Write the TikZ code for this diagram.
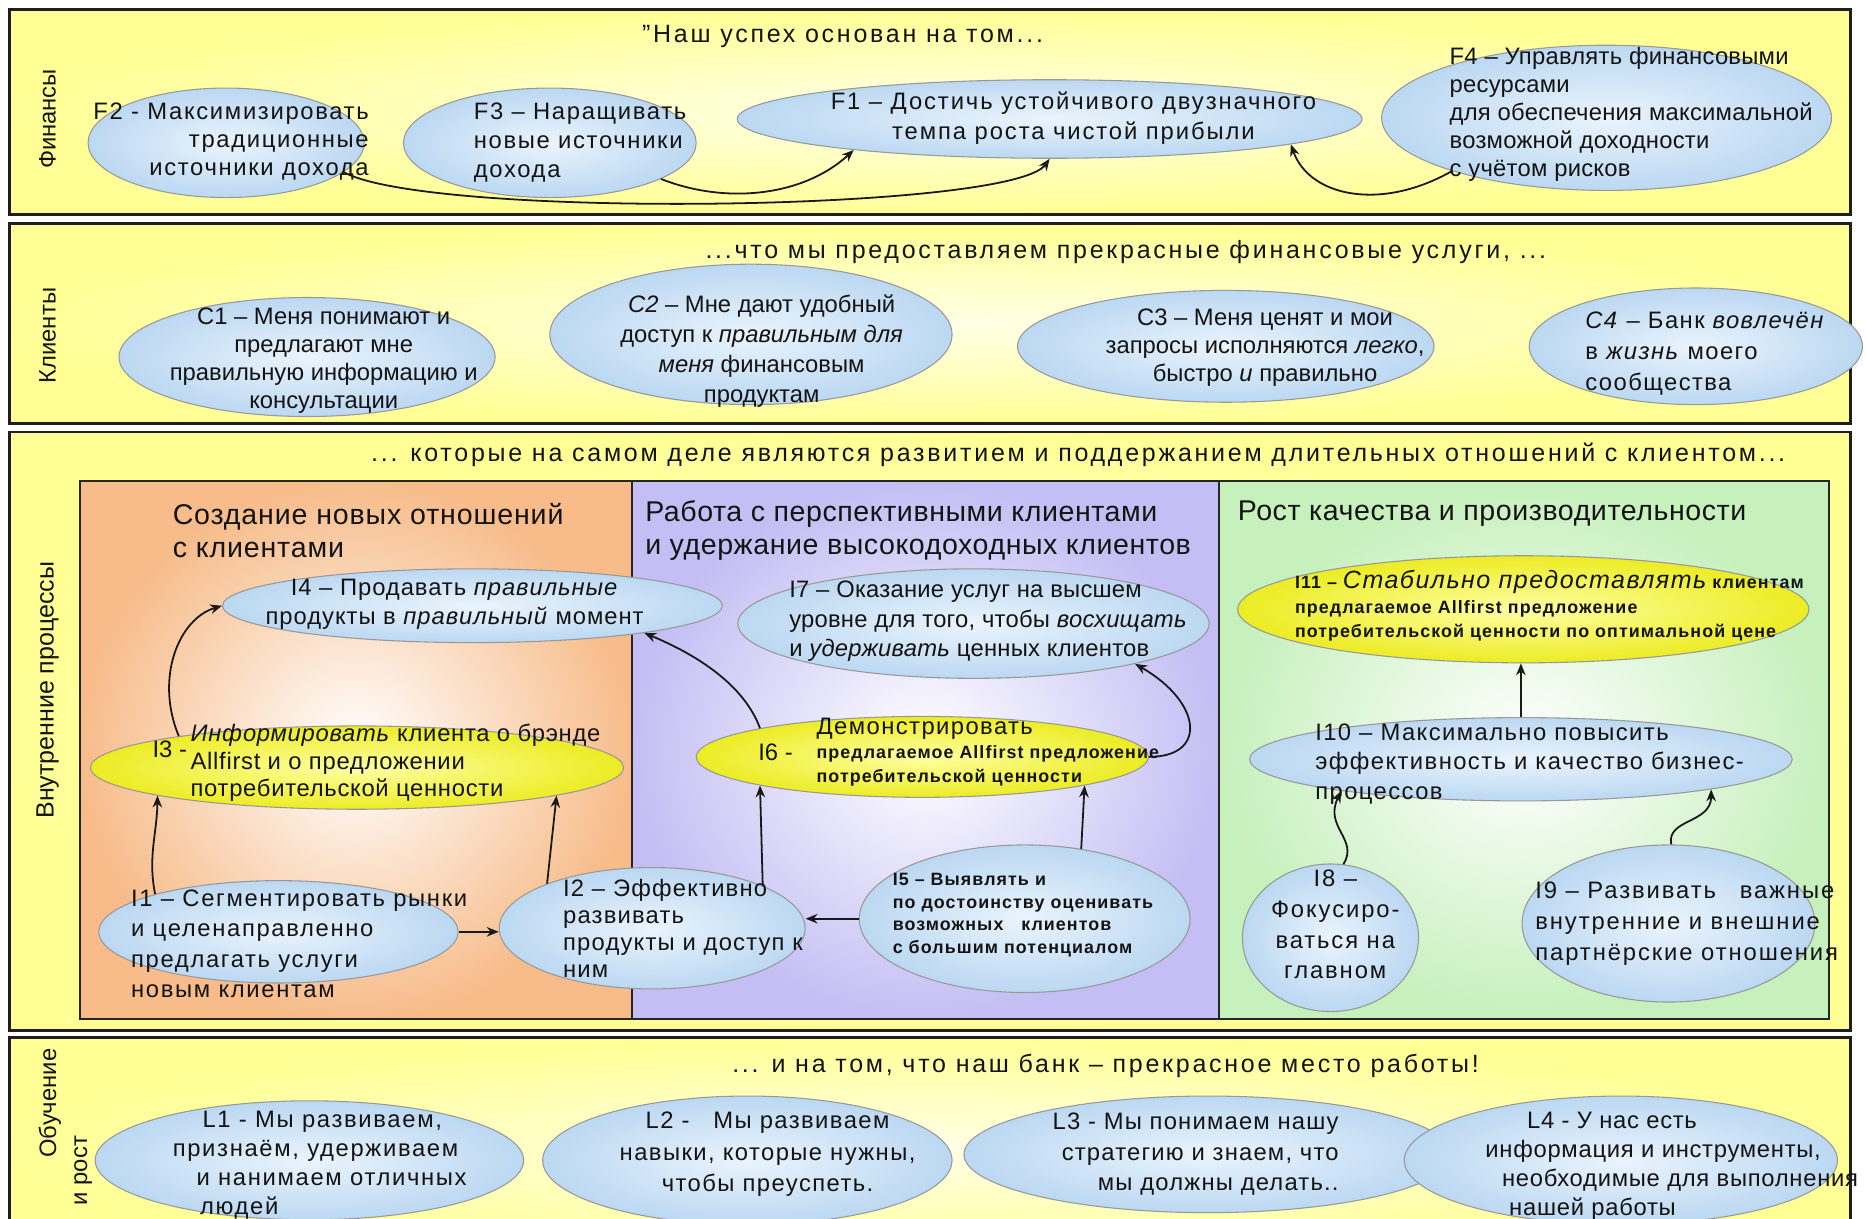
\documentclass[tikz,border=0pt]{standalone}
\usepackage{fontspec}
\setmainfont{Liberation Sans}
\usetikzlibrary{shapes.geometric,arrows.meta}
\definecolor{bandY}{RGB}{255,255,150}
\definecolor{bandC}{RGB}{255,255,232}
\definecolor{eOut}{RGB}{188,216,242}
\definecolor{eIn}{RGB}{234,244,253}
\definecolor{yOut}{RGB}{236,236,36}
\definecolor{yIn}{RGB}{255,255,165}
\definecolor{orOut}{RGB}{247,188,138}
\definecolor{puOut}{RGB}{196,190,244}
\definecolor{grOut}{RGB}{198,240,188}
\newcommand\fs[2]{\fontsize{#1}{#2}\selectfont}
\newcommand\ls[1]{\addfontfeatures{LetterSpace=#1}}
\newcommand\smb{\fs{15}{20.5}\bfseries\ls{6}}
\begin{document}
\begin{tikzpicture}[x=1pt,y=-1pt,
  band/.style={draw=black!88, line width=2.2pt, inner color=bandC, outer color=bandY},
  panel/.style={draw=black!85, line width=1.6pt},
  ell/.style={ellipse, draw=black!40, line width=0.9pt, inner color=eIn, outer color=eOut, inner sep=0pt},
  yell/.style={ellipse, draw=black!40, line width=0.9pt, inner color=yIn, outer color=yOut, inner sep=0pt},
  txt/.style={inner sep=0pt, text=black!92, align=left, font=\fs{20}{23.5}},
  ttl/.style={inner sep=0pt, text=black!92, font=\fs{21}{25}\ls{11}},
  side/.style={inner sep=0pt, text=black!92, rotate=90},
  arr/.style={-{Stealth[length=10pt,width=8pt]}, line width=1.5pt, black!90},
]
\useasboundingbox (0,0) rectangle (1568,1024);
\fill[white] (0,0) rectangle (1568,1024);

% bands
\path[band] (8,8) rectangle (1555,180);
\path[band] (8,188) rectangle (1555,356);
\path[band] (8,363) rectangle (1555,866);
\path[band] (8,872) rectangle (1555,1060);

% panels
\path[panel, inner color=white, outer color=orOut] (67,404) rectangle (531,856);
\path[panel, inner color=white, outer color=puOut] (531,404) rectangle (1024,856);
\path[panel, inner color=white, outer color=grOut] (1024,404) rectangle (1537,856);

% side labels
\node[side, font=\fs{20}{22}] (sf) at (40,100) {Финансы};
\node[side, font=\fs{20}{22}] (sc) at (40,282) {Клиенты};
\node[side, font=\fs{21}{24}] (si) at (40,580) {Внутренние процессы};
\node[side, font=\fs{20}{26}, align=left] (sl) at (55,947) {\hspace*{40pt}Обучение\\и рост};

% titles
\node[ttl] (t1) at (708,31) {"Наш успех основан на том...};
\node[ttl] (t2) at (946,212) {...что мы предоставляем прекрасные финансовые услуги, ...};
\node[ttl] (t3) at (906,382) {... которые на самом деле являются развитием и поддержанием длительных отношений с клиентом...};
\node[ttl] (t4) at (929,896) {... и на том, что наш банк – прекрасное место работы!};

\node[txt, anchor=west, font=\fs{24}{28}\ls{3}] (p1) at (145,446) {Создание новых отношений\\с клиентами};
\node[txt, anchor=west, font=\fs{24}{28}\ls{2}] (p2) at (542,446) {Работа с перспективными клиентами\\и удержание высокодоходных клиентов};
\node[txt, anchor=west, font=\fs{24}{28}\ls{2}] (p3) at (1040,432) {Рост качества и производительности};

% ellipses: finance
\node[ell, minimum width=232pt, minimum height=92pt] (f2) at (190,120) {};
\node[ell, minimum width=246pt, minimum height=92pt] (f3) at (462,120) {};
\node[ell, minimum width=525pt, minimum height=66pt] (f1) at (882,100) {};
\node[ell, minimum width=378pt, minimum height=122pt] (f4) at (1350,99) {};
% clients
\node[ell, minimum width=316pt, minimum height=100pt] (c1) at (258,300) {};
\node[ell, minimum width=338pt, minimum height=118pt] (c2) at (631,281) {};
\node[ell, minimum width=350pt, minimum height=94pt] (c3) at (1030,291) {};
\node[ell, minimum width=280pt, minimum height=98pt] (c4) at (1425,291) {};
% internal
\node[ell, minimum width=420pt, minimum height=62pt] (i4) at (397,509) {};
\node[ell, minimum width=396pt, minimum height=92pt] (i7) at (818,524) {};
\node[yell, minimum width=480pt, minimum height=90pt] (i11) at (1280,512) {};
\node[yell, minimum width=448pt, minimum height=70pt] (i3) at (300,645) {};
\node[yell, minimum width=380pt, minimum height=68pt] (i6) at (775,636) {};
\node[ell, minimum width=456pt, minimum height=70pt] (i10) at (1278,638) {};
\node[ell, minimum width=302pt, minimum height=86pt] (i1) at (234,783) {};
\node[ell, minimum width=257pt, minimum height=102pt] (i2) at (548,780) {};
\node[ell, minimum width=278pt, minimum height=124pt] (i5) at (861,772) {};
\node[ell, minimum width=148pt, minimum height=124pt] (i8) at (1118,788) {};
\node[ell, minimum width=246pt, minimum height=132pt] (i9) at (1402,776) {};
% learning
\node[ell, minimum width=360pt, minimum height=100pt] (l1) at (260,975) {};
\node[ell, minimum width=344pt, minimum height=108pt] (l2) at (628,975) {};
\node[ell, minimum width=410pt, minimum height=98pt] (l3) at (1015,970) {};
\node[ell, minimum width=364pt, minimum height=108pt] (l4) at (1362,975) {};

% texts: finance
\node[txt, anchor=east, align=right, font=\fs{20}{23.5}\ls{7}] (f2t) at (310,119) {F2 - Максимизировать\\традиционные\\источники дохода};
\node[txt, anchor=west, font=\fs{20}{24.5}\ls{7}] (f3t) at (398,120) {F3 – Наращивать\\новые источники\\дохода};
\node[txt, align=center, font=\fs{20}{25}\ls{8}] (f1t) at (902,99) {F1 – Достичь устойчивого двузначного\\темпа роста чистой прибыли};
\node[txt, anchor=west, font=\fs{20}{23.5}\ls{1}] (f4t) at (1218,96) {F4 – Управлять финансовыми\\ресурсами\\для обеспечения максимальной\\возможной доходности\\с учётом рисков};
% clients
\node[txt, align=center] (c1t) at (272,303) {C1 – Меня понимают и\\предлагают мне\\правильную информацию и\\консультации};
\node[txt, align=center, font=\fs{20}{25}] (c2t) at (640,295) {\textit{C2} – Мне дают удобный\\доступ к \textit{правильным для}\\\textit{меня} финансовым\\продуктам};
\node[txt, align=center] (c3t) at (1063,292) {C3 – Меня ценят и мои\\запросы исполняются \textit{легко},\\быстро \textit{и} правильно};
\node[txt, anchor=west, font=\fs{20}{26}\ls{6}] (c4t) at (1332,297) {\textit{C4} – Банк \textit{вовлечён}\\в \textit{жизнь} моего\\сообщества};
% internal
\node[txt, align=center, font=\fs{20}{24}\ls{4}] (i4t) at (382,508) {I4 – Продавать \textit{правильные}\\продукты в \textit{правильный} момент};
\node[txt, anchor=west, font=\fs{20}{24.5}\ls{1}] (i7t) at (663,522) {I7 – Оказание услуг на высшем\\уровне для того, чтобы \textit{восхищать}\\и \textit{удерживать} ценных клиентов};
\node[txt, anchor=west, font=\smb] (i11t) at (1088,509) {I11 – {\fs{21}{20}\mdseries\itshape Стабильно предоставлять} клиентам\\предлагаемое Allfirst предложение\\потребительской ценности по оптимальной цене};
\node[txt, anchor=west] (i3l) at (128,630) {I3 -};
\node[txt, anchor=west, font=\fs{20}{23}\ls{3}] (i3t) at (160,641) {\textit{Информировать} клиента о брэнде\\Allfirst и о предложении\\потребительской ценности};
\node[txt, anchor=west] (i6l) at (637,632) {I6 -};
\node[txt, anchor=west, font=\smb] (i6t) at (686,632) {{\fs{20}{20}\mdseries Демонстрировать}\\предлагаемое Allfirst предложение\\потребительской ценности};
\node[txt, anchor=west, font=\fs{20}{25}\ls{6}] (i10t) at (1105,642) {I10 – Максимально повысить\\эффективность и качество бизнес-\\процессов};
\node[txt, anchor=west, font=\fs{20}{25.7}\ls{7}] (i1t) at (110,793) {I1 – Сегментировать рынки\\и целенаправленно\\предлагать услуги\\новым клиентам};
\node[txt, anchor=west, font=\fs{20}{22.7}\ls{5}] (i2t) at (473,780) {I2 – Эффективно\\развивать\\продукты и доступ к\\ним};
\node[txt, anchor=west, font=\fs{15}{19}\bfseries\ls{6}] (i5t) at (750,769) {I5 – Выявлять и\\по достоинству оценивать\\возможных\quad клиентов\\с большим потенциалом};
\node[txt, align=center, font=\fs{20}{25.7}\ls{8}] (i8t) at (1122,777) {I8 –\\Фокусиро-\\ваться на\\главном};
\node[txt, anchor=west, font=\fs{20}{26}\ls{8}] (i9t) at (1290,776) {I9 – Развивать\quad важные\\внутренние и внешние\\партнёрские отношения};
% learning
\node[txt, anchor=west, font=\fs{20}{24.5}\ls{7}] (l1t) at (145,979) {\hspace*{25pt}L1 - Мы развиваем,\\признаём, удерживаем\\\hspace*{20pt}и нанимаем отличных\\\hspace*{23pt}людей};
\node[txt, align=center, font=\fs{20}{26.5}\ls{6}] (l2t) at (645,970) {L2 -\quad Мы развиваем\\навыки, которые нужны,\\чтобы преуспеть.};
\node[txt, anchor=east, align=right, font=\fs{20}{25.5}\ls{5}] (l3t) at (1125,970) {L3 - Мы понимаем нашу\\стратегию и знаем, что\\мы должны делать..};
\node[txt, anchor=west, font=\fs{20}{24.5}\ls{3}] (l4t) at (1248,980) {\hspace*{35pt}L4 - У нас есть\\информация и инструменты,\\\hspace*{14pt}необходимые для выполнения\\\hspace*{20pt}нашей работы};

% arrows: finance
\draw[arr] (f2.-14) .. controls (360,184) and (850,178) .. (f1.-90);
\draw[arr] (f3.-18) .. controls (610,172) and (675,165) .. (f1.-171);
\draw[arr] (f4.-161) .. controls (1160,178) and (1100,165) .. (f1.-6);
% arrows: internal
\draw[arr] (i1.163) .. controls (124,720) and (132,700) .. (i3.-172);
\draw[arr] (i1.east) -- (i1.east -| i2.west);
\draw[arr] (i2.157) -- (i3.-8.7);
\draw[arr] (i3.170) .. controls (130,570) and (150,520) .. (i4.west);
\draw[arr] (i5.west) -- (i5.west -| i2.east);
\draw[arr] (i2.21) -- (i6.-170);
\draw[arr] (i5.51) -- (i6.-10.4);
\draw[arr] (i6.170) .. controls (625,575) and (585,550) .. (i4.-9);
\draw[arr] (i6.east) .. controls (1015,636) and (1010,590) .. (i7.-14);
\draw[arr] (i10.north) -- (i10.north |- i11.south);
\draw[arr] (i8.80) .. controls (1142,705) and (1112,695) .. (i10.-170.5);
\draw[arr] (i9.88) .. controls (1400,688) and (1438,692) .. (i10.-9);
\end{tikzpicture}
\end{document}
